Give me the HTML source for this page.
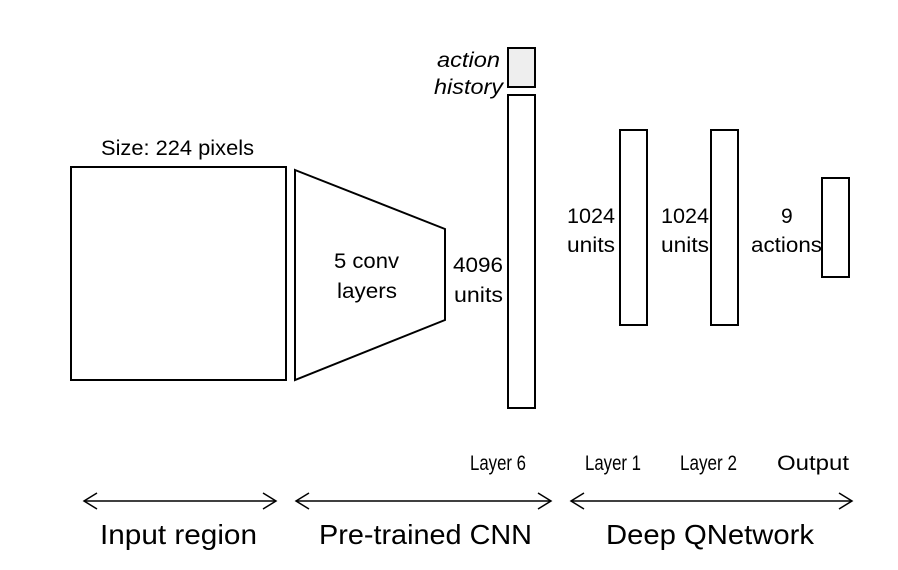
<!DOCTYPE html>
<html><head><meta charset="utf-8"><style>html,body{margin:0;padding:0;background:#fff}svg{display:block}text{font-family:"Liberation Sans",sans-serif;fill:#000}</style></head>
<body>
<svg width="898" height="570" viewBox="0 0 898 570" xmlns="http://www.w3.org/2000/svg">
<g fill="#fff" stroke="#000" stroke-width="2">
<rect x="71" y="167" width="215" height="213"/>
<polygon points="295,170 445,229 445,320 295,380"/>
<rect x="508" y="48" width="27" height="39" fill="#eee"/>
<rect x="508" y="95" width="27" height="313"/>
<rect x="620" y="130" width="27" height="195"/>
<rect x="711" y="130" width="27" height="195"/>
<rect x="822" y="178" width="27" height="99"/>
</g>
<g font-size="21">
<text x="101" y="155" textLength="153" lengthAdjust="spacingAndGlyphs">Size: 224 pixels</text>
<text x="334" y="268" textLength="65" lengthAdjust="spacingAndGlyphs">5 conv</text>
<text x="337" y="298" textLength="60" lengthAdjust="spacingAndGlyphs">layers</text>
<text x="453" y="272" textLength="50" lengthAdjust="spacingAndGlyphs">4096</text>
<text x="454" y="302" textLength="49" lengthAdjust="spacingAndGlyphs">units</text>
<text x="437" y="67" font-style="italic" textLength="63" lengthAdjust="spacingAndGlyphs">action</text>
<text x="434" y="94" font-style="italic" textLength="69" lengthAdjust="spacingAndGlyphs">history</text>
<text x="567" y="223" textLength="48" lengthAdjust="spacingAndGlyphs">1024</text>
<text x="567" y="252" textLength="48" lengthAdjust="spacingAndGlyphs">units</text>
<text x="661" y="223" textLength="48" lengthAdjust="spacingAndGlyphs">1024</text>
<text x="661" y="252" textLength="48" lengthAdjust="spacingAndGlyphs">units</text>
<text x="781" y="223">9</text>
<text x="751" y="252" textLength="71" lengthAdjust="spacingAndGlyphs">actions</text>
<text x="470" y="470" textLength="56" lengthAdjust="spacingAndGlyphs">Layer 6</text>
<text x="585" y="470" textLength="56" lengthAdjust="spacingAndGlyphs">Layer 1</text>
<text x="680" y="470" textLength="57" lengthAdjust="spacingAndGlyphs">Layer 2</text>
<text x="777" y="470" textLength="72" lengthAdjust="spacingAndGlyphs">Output</text>
</g>
<g stroke="#000" stroke-width="1.5" fill="none">
<line x1="84" y1="501" x2="276" y2="501"/>
<polyline points="97,493 84,501 97,509"/><polyline points="263,493 276,501 263,509"/>
<line x1="296" y1="501" x2="551" y2="501"/>
<polyline points="309,493 296,501 309,509"/><polyline points="538,493 551,501 538,509"/>
<line x1="571" y1="501" x2="852" y2="501"/>
<polyline points="584,493 571,501 584,509"/><polyline points="839,493 852,501 839,509"/>
</g>
<g font-size="28">
<text x="100" y="544" textLength="157" lengthAdjust="spacingAndGlyphs">Input region</text>
<text x="319" y="544" textLength="213" lengthAdjust="spacingAndGlyphs">Pre-trained  CNN</text>
<text x="606" y="544" textLength="208" lengthAdjust="spacingAndGlyphs">Deep QNetwork</text>
</g>
</svg>
</body></html>
